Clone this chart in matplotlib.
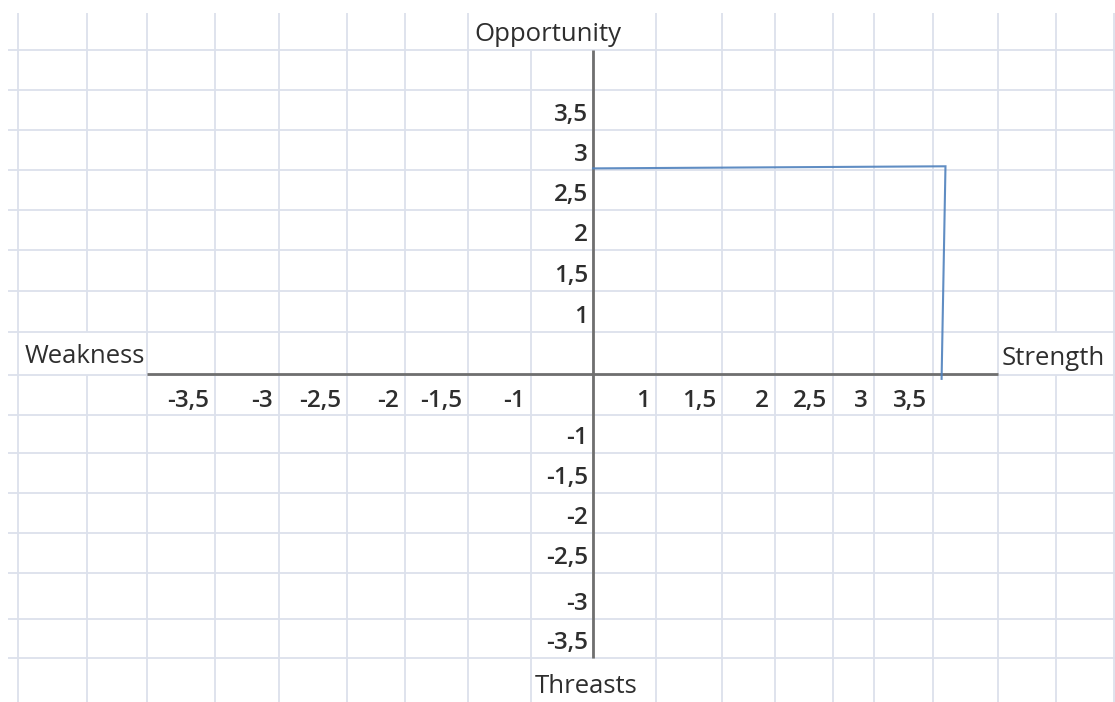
import matplotlib
matplotlib.use("Agg")
import matplotlib.pyplot as plt

# ---------------- data ----------------
x_tick_labels = ['-3,5', '-3', '-2,5', '-2', '-1,5', '-1', '1', '1,5', '2', '2,5', '3', '3,5']
y_tick_labels = ['3,5', '3', '2,5', '2', '1,5', '1', '-1', '-1,5', '-2', '-2,5', '-3', '-3,5']
axis_names = ['Opportunity', 'Weakness', 'Strength', 'Threasts']
# hand-drawn connector: from the Opportunity axis to the point and down to the Strength axis
path_strength = [0.0, 3.63, 3.59]
path_opportunity = [2.95, 2.98, -0.07]

# ---------------- layout (spreadsheet cells, pixels) ----------------
W, H = 1115, 702
col_edges = [18, 87, 147, 215, 279, 347, 405, 468, 531, 593, 656, 722, 775,
             833, 874, 933, 998, 1056, 1114]
row_edges = [50, 90, 130, 170, 210, 250, 291, 332, 375, 415, 453, 493, 533,
             573, 619, 658]
grid_top, grid_left = 13, 8
# vertical gridline pieces hidden by overflowing text: (x, y_top, y_bottom)
hidden = [(87, 332, 375), (531, 13, 50), (593, 13, 50), (1056, 332, 375),
          (593, 658, 702)]
x_label_right = [215, 279, 347, 405, 468, 531, 656, 722, 775, 833, 874, 933]
x_label_base = 407
y_label_bottom = [130, 170, 210, 250, 291, 332, 453, 493, 533, 573, 619, 658]
y_label_right = 588
name_pos = [(474, 41), (25, 363), (1002, 365), (535, 693)]
origin_px = (593, 374)
px_per_x = 97.1
px_per_y = 69.7
xaxis_span = (147, 998)
yaxis_span = (50, 658)

grid_color = '#dce1ec'
axis_color = '#6f6f6f'
text_color = '#2e2e2e'
line_color = '#4f81bd'
font = ['Open Sans', 'DejaVu Sans']
fs = 17.5
fw = 'semibold'
fs_name = 18.5

fig = plt.figure(figsize=(W / 100, H / 100), dpi=100)
bg = fig.add_axes([0, 0, 1, 1])
bg.set_xlim(0, W)
bg.set_ylim(H, 0)
bg.axis('off')

# spreadsheet gridlines
for y in row_edges:
    bg.plot([grid_left, W], [y, y], color=grid_color, lw=1.3, solid_capstyle='butt', zorder=1)
for x in col_edges:
    cuts = sorted((a, b) for (cx, a, b) in hidden if cx == x)
    start = grid_top
    for a, b in cuts:
        if a > start:
            bg.plot([x, x], [start, a], color=grid_color, lw=1.3, solid_capstyle='butt', zorder=1)
        start = max(start, b)
    if start < H:
        bg.plot([x, x], [start, H], color=grid_color, lw=1.3, solid_capstyle='butt', zorder=1)

# quadrant axes
bg.plot(list(xaxis_span), [origin_px[1]] * 2, color=axis_color, lw=2.0, solid_capstyle='butt', zorder=3)
bg.plot([origin_px[0]] * 2, list(yaxis_span), color=axis_color, lw=2.0, solid_capstyle='butt', zorder=3)

# tick labels (text cells)
for lab, xr in zip(x_tick_labels, x_label_right):
    bg.text(xr - 6, x_label_base, lab, ha='right', va='baseline', fontsize=fs,
            fontweight=fw, color=text_color, family=font, zorder=4)
for lab, yb in zip(y_tick_labels, y_label_bottom):
    bg.text(y_label_right, yb - 9, lab, ha='right', va='baseline', fontsize=fs,
            fontweight=fw, color=text_color, family=font, zorder=4)
for lab, (x, y) in zip(axis_names, name_pos):
    bg.text(x, y, lab, ha='left', va='baseline', fontsize=fs_name,
            color=text_color, family=font, zorder=4)

# data axes overlay, aligned with the drawn quadrant axes
ax = fig.add_axes([0, 0, 1, 1], facecolor='none')
ax.set_xlim(-origin_px[0] / px_per_x, (W - origin_px[0]) / px_per_x)
ax.set_ylim(-(H - origin_px[1]) / px_per_y, origin_px[1] / px_per_y)
ax.axis('off')
ax.plot(path_strength, path_opportunity, color=line_color, lw=1.5, alpha=0.9,
        solid_joinstyle='miter', zorder=5)

fig.savefig('out.png', dpi=100)
